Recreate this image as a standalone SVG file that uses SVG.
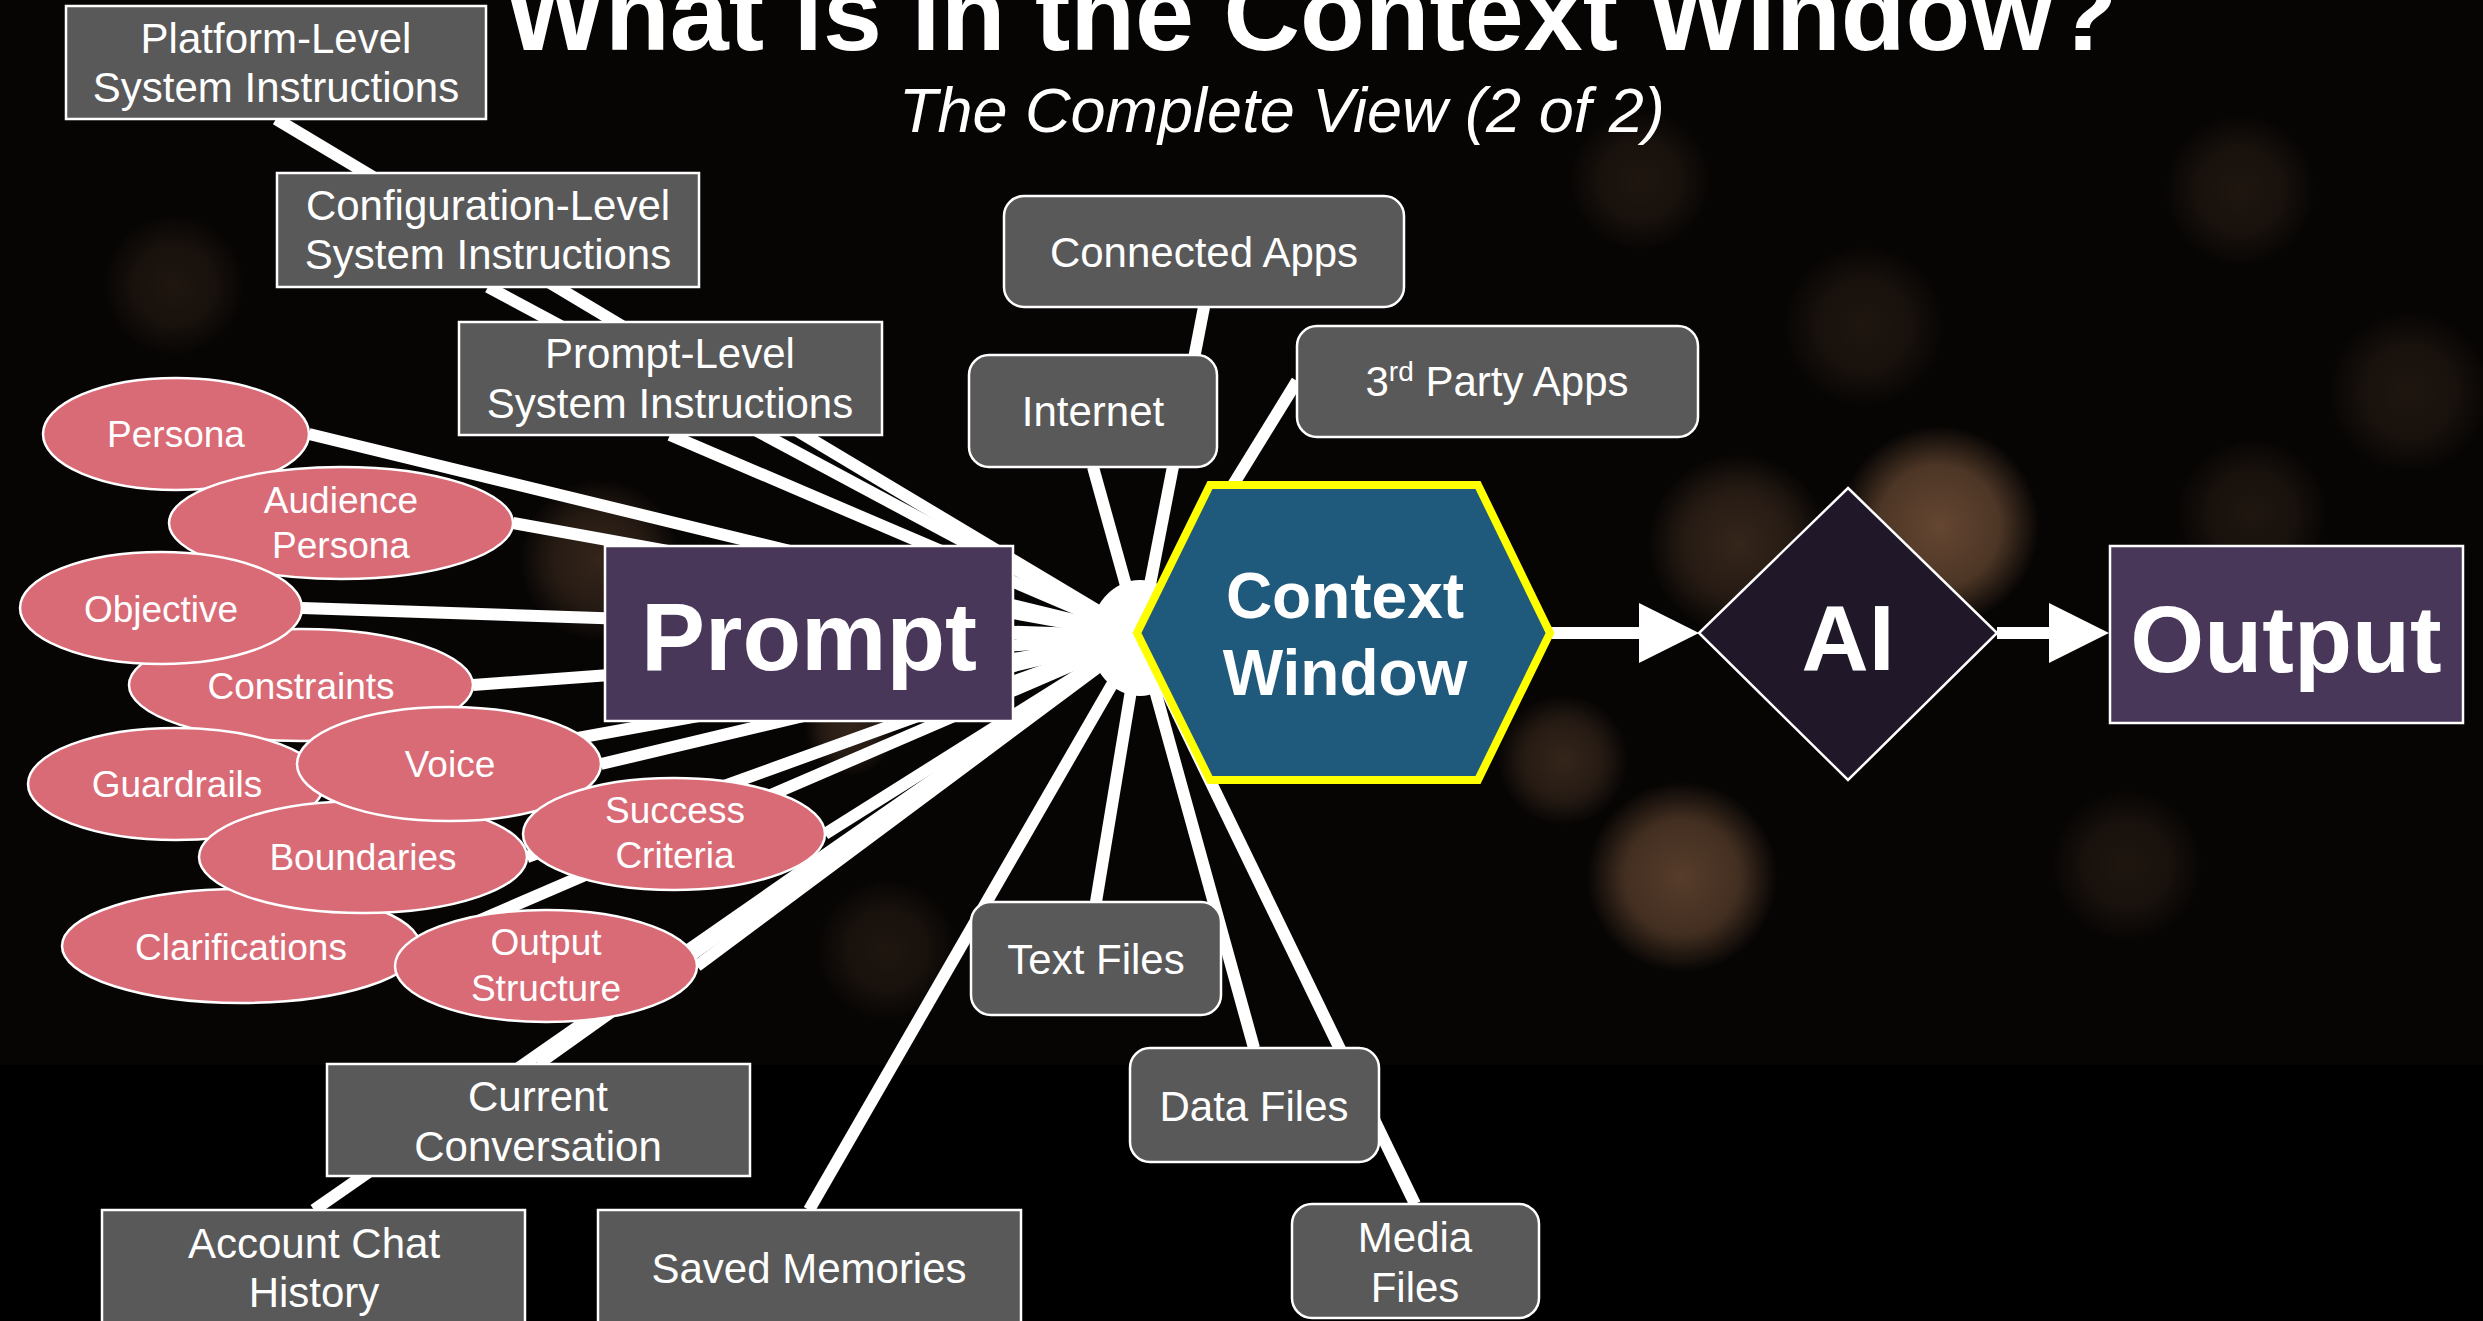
<svg xmlns="http://www.w3.org/2000/svg" width="2483" height="1321" viewBox="0 0 2483 1321">
<defs>
<style>
.box{fill:#595959;stroke:#ffffff;stroke-width:2.5}
.ell{fill:#d96b77;stroke:#ffffff;stroke-width:2.5}
.lbl{font-family:"Liberation Sans",Arial,sans-serif;font-size:42px;fill:#ffffff;text-anchor:middle}
.el{font-family:"Liberation Sans",Arial,sans-serif;font-size:37px;fill:#ffffff;text-anchor:middle}
.big{font-family:"Liberation Sans",Arial,sans-serif;font-weight:bold;fill:#ffffff;text-anchor:middle}
.con{stroke:#ffffff;stroke-width:12;fill:none}
.arr{stroke:#ffffff;stroke-width:12;fill:none}
</style>
<radialGradient id="bkA"><stop offset="0" stop-color="#6a4a34" stop-opacity="0.95"/><stop offset="0.6" stop-color="#5a3f2c" stop-opacity="0.85"/><stop offset="1" stop-color="#5a3f2c" stop-opacity="0"/></radialGradient>
<radialGradient id="bkB"><stop offset="0" stop-color="#3a291d" stop-opacity="0.9"/><stop offset="0.6" stop-color="#33241a" stop-opacity="0.7"/><stop offset="1" stop-color="#33241a" stop-opacity="0"/></radialGradient>
<radialGradient id="bkC"><stop offset="0" stop-color="#221811" stop-opacity="0.9"/><stop offset="0.6" stop-color="#1e150f" stop-opacity="0.7"/><stop offset="1" stop-color="#1e150f" stop-opacity="0"/></radialGradient>
<marker id="ah" markerUnits="userSpaceOnUse" markerWidth="60" markerHeight="60" viewBox="0 0 60 60" refX="0" refY="30" orient="auto"><path d="M0,0 L60,30 L0,60 z" fill="#ffffff"/></marker>
</defs>

<g id="background">
<rect x="0" y="0" width="2483" height="1321" fill="#000000"/>
<rect x="0" y="0" width="2483" height="1065" fill="#070504"/>
<circle cx="1939" cy="526" r="100" fill="url(#bkA)"/>
<circle cx="1682" cy="877" r="95" fill="url(#bkA)" opacity="0.85"/>
<circle cx="1738" cy="544" r="90" fill="url(#bkB)"/>
<circle cx="1563" cy="760" r="65" fill="url(#bkB)"/>
<circle cx="1864" cy="326" r="80" fill="url(#bkC)"/>
<circle cx="2240" cy="190" r="75" fill="url(#bkC)"/>
<circle cx="2409" cy="392" r="80" fill="url(#bkC)"/>
<circle cx="2127" cy="865" r="75" fill="url(#bkC)"/>
<circle cx="2252" cy="514" r="75" fill="url(#bkC)"/>
<circle cx="174" cy="285" r="70" fill="url(#bkC)"/>
<circle cx="600" cy="560" r="80" fill="url(#bkB)"/>
<circle cx="887" cy="950" r="70" fill="url(#bkC)"/>
<circle cx="850" cy="730" r="45" fill="url(#bkB)"/>
<circle cx="1640" cy="180" r="70" fill="url(#bkC)"/>
</g>

<g id="title">
<text x="505" y="50" font-family="'Liberation Sans',Arial,sans-serif" font-weight="bold" font-size="106" fill="#ffffff">What is in the Context Window?</text>
<text x="899" y="132" font-family="'Liberation Sans',Arial,sans-serif" font-style="italic" font-size="63" fill="#ffffff">The Complete View (2 of 2)</text>
</g>

<g id="connectors">
<line class="con" x1="276" y1="119" x2="1140" y2="636"/>
<line class="con" x1="488" y1="287" x2="1140" y2="636"/>
<line class="con" x1="670" y1="435" x2="1140" y2="636"/>
<line class="con" x1="309" y1="434" x2="1140" y2="636"/>
<line class="con" x1="513" y1="523" x2="1140" y2="636"/>
<line class="con" x1="302" y1="608" x2="1140" y2="636"/>
<line class="con" x1="473" y1="685" x2="1140" y2="636"/>
<line class="con" x1="324" y1="784" x2="1140" y2="636"/>
<line class="con" x1="601" y1="764" x2="1140" y2="636"/>
<line class="con" x1="527" y1="857" x2="1140" y2="636"/>
<line class="con" x1="825" y1="834" x2="1140" y2="636"/>
<line class="con" x1="420" y1="946" x2="1140" y2="636"/>
<line class="con" x1="697" y1="966" x2="1140" y2="636"/>
<line class="con" x1="538" y1="1064" x2="1140" y2="636"/>
<line class="con" x1="314" y1="1210" x2="1140" y2="636"/>
<line class="con" x1="809" y1="1210" x2="1140" y2="636"/>
<line class="con" x1="1096" y1="902" x2="1140" y2="636"/>
<line class="con" x1="1254" y1="1048" x2="1140" y2="636"/>
<line class="con" x1="1415" y1="1204" x2="1140" y2="636"/>
<line class="con" x1="1093" y1="467" x2="1140" y2="636"/>
<line class="con" x1="1204" y1="307" x2="1140" y2="636"/>
<line class="con" x1="1297" y1="381" x2="1140" y2="636"/>
<line class="con" x1="1013" y1="633" x2="1140" y2="636"/>
<ellipse cx="1140" cy="638" rx="50" ry="58" fill="#ffffff"/>
<line class="arr" x1="1550" y1="633" x2="1639" y2="633" marker-end="url(#ah)"/>
<line class="arr" x1="1997" y1="633" x2="2049" y2="633" marker-end="url(#ah)"/>
</g>

<g id="platform-level">
<rect class="box" x="66" y="6" width="420" height="113"/>
<text class="lbl" x="276" y="53">Platform-Level</text>
<text class="lbl" x="276" y="102">System Instructions</text>
</g>
<g id="configuration-level">
<rect class="box" x="277" y="173" width="422" height="114"/>
<text class="lbl" x="488" y="220">Configuration-Level</text>
<text class="lbl" x="488" y="269">System Instructions</text>
</g>
<g id="prompt-level">
<rect class="box" x="459" y="322" width="423" height="113"/>
<text class="lbl" x="670" y="368">Prompt-Level</text>
<text class="lbl" x="670" y="418">System Instructions</text>
</g>

<g id="persona"><ellipse class="ell" cx="176" cy="434" rx="133" ry="56"/><text class="el" x="176" y="447">Persona</text></g>
<g id="audience-persona"><ellipse class="ell" cx="341" cy="523" rx="172" ry="56"/><text class="el" x="341" y="513">Audience</text><text class="el" x="341" y="558">Persona</text></g>
<g id="constraints"><ellipse class="ell" cx="301" cy="685" rx="172" ry="56"/><text class="el" x="301" y="699">Constraints</text></g>
<g id="objective"><ellipse class="ell" cx="161" cy="608" rx="141" ry="56"/><text class="el" x="161" y="622">Objective</text></g>
<g id="guardrails"><ellipse class="ell" cx="176" cy="784" rx="148" ry="56"/><text class="el" x="177" y="797">Guardrails</text></g>
<g id="clarifications"><ellipse class="ell" cx="241" cy="946" rx="179" ry="57"/><text class="el" x="241" y="960">Clarifications</text></g>
<g id="boundaries"><ellipse class="ell" cx="363" cy="857" rx="164" ry="56"/><text class="el" x="363" y="870">Boundaries</text></g>
<g id="voice"><ellipse class="ell" cx="449" cy="764" rx="152" ry="57"/><text class="el" x="450" y="777">Voice</text></g>
<g id="success-criteria"><ellipse class="ell" cx="674" cy="834" rx="151" ry="56"/><text class="el" x="675" y="823">Success</text><text class="el" x="675" y="868">Criteria</text></g>
<g id="output-structure"><ellipse class="ell" cx="546" cy="966" rx="151" ry="56"/><text class="el" x="546" y="955">Output</text><text class="el" x="546" y="1001">Structure</text></g>

<g id="prompt">
<rect x="605" y="546" width="408" height="175" fill="#483759" stroke="#ffffff" stroke-width="2.5"/>
<text class="big" x="809" y="670" font-size="96">Prompt</text>
</g>

<g id="current-conversation">
<rect class="box" x="327" y="1064" width="423" height="112"/>
<text class="lbl" x="538" y="1111">Current</text>
<text class="lbl" x="538" y="1161">Conversation</text>
</g>
<g id="account-chat-history">
<rect class="box" x="102" y="1210" width="423" height="140"/>
<text class="lbl" x="314" y="1258">Account Chat</text>
<text class="lbl" x="314" y="1307">History</text>
</g>
<g id="saved-memories">
<rect class="box" x="598" y="1210" width="423" height="140"/>
<text class="lbl" x="809" y="1283">Saved Memories</text>
</g>

<g id="connected-apps">
<rect class="box" x="1004" y="196" width="400" height="111" rx="20"/>
<text class="lbl" x="1204" y="267">Connected Apps</text>
</g>
<g id="internet">
<rect class="box" x="969" y="355" width="248" height="112" rx="20"/>
<text class="lbl" x="1093" y="426">Internet</text>
</g>
<g id="third-party-apps">
<rect class="box" x="1297" y="326" width="401" height="111" rx="20"/>
<text class="lbl" x="1497" y="396">3<tspan font-size="28" dy="-15">rd</tspan><tspan dy="15"> Party Apps</tspan></text>
</g>
<g id="text-files">
<rect class="box" x="971" y="902" width="250" height="113" rx="20"/>
<text class="lbl" x="1096" y="974">Text Files</text>
</g>
<g id="data-files">
<rect class="box" x="1130" y="1048" width="249" height="114" rx="20"/>
<text class="lbl" x="1254" y="1121">Data Files</text>
</g>
<g id="media-files">
<rect class="box" x="1292" y="1204" width="247" height="114" rx="20"/>
<text class="lbl" x="1415" y="1252">Media</text>
<text class="lbl" x="1415" y="1302">Files</text>
</g>

<g id="context-window">
<polygon points="1137,633 1210,485 1478,485 1550,633 1478,780 1210,780" fill="#1f5a7d" stroke="#ffff00" stroke-width="8" stroke-linejoin="miter"/>
<text class="big" x="1345" y="618" font-size="64">Context</text>
<text class="big" x="1345" y="695" font-size="64">Window</text>
</g>

<g id="ai">
<polygon points="1848,488 1997,633 1848,780 1699,633" fill="#201829" stroke="#ffffff" stroke-width="2.5"/>
<text class="big" x="1848" y="670" font-size="93">AI</text>
</g>

<g id="output">
<rect x="2110" y="546" width="353" height="177" fill="#483759" stroke="#ffffff" stroke-width="2.5"/>
<text class="big" x="2286" y="672" font-size="95">Output</text>
</g>
</svg>
